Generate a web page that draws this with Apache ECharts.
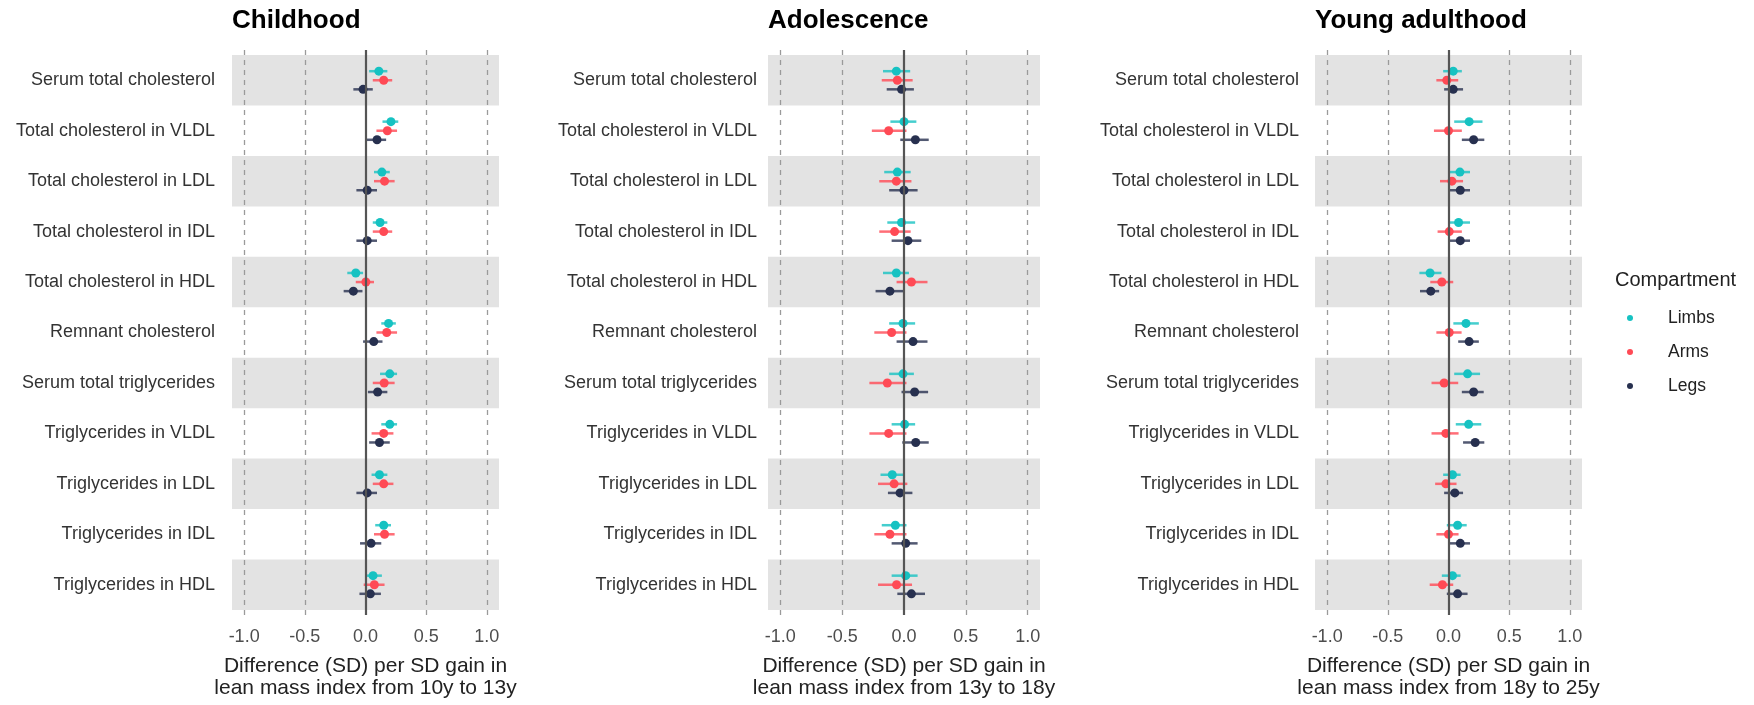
<!DOCTYPE html>
<html>
<head>
<meta charset="utf-8">
<script src="https://cdn.jsdelivr.net/npm/echarts@6/dist/echarts.min.js"></script>
<style>
  html, body { margin: 0; padding: 0; background: #fff; }
  #main { width: 1754px; height: 705px; }
</style>
</head>
<body>
<div id="main"></div>
<script>
// rows, top to bottom
const categories = [
  "Serum total cholesterol",
  "Total cholesterol in VLDL",
  "Total cholesterol in LDL",
  "Total cholesterol in IDL",
  "Total cholesterol in HDL",
  "Remnant cholesterol",
  "Serum total triglycerides",
  "Triglycerides in VLDL",
  "Triglycerides in LDL",
  "Triglycerides in IDL",
  "Triglycerides in HDL"
];
const xTicks = [-1.0, -0.5, 0.0, 0.5, 1.0];
const groups = ["Limbs", "Arms", "Legs"];
const panelTitles = ["Childhood", "Adolescence", "Young adulthood"];
const axisTitles = [
  "Difference (SD) per SD gain in\nlean mass index from 10y to 13y",
  "Difference (SD) per SD gain in\nlean mass index from 13y to 18y",
  "Difference (SD) per SD gain in\nlean mass index from 18y to 25y"
];

// [estimate, lower, upper] per row
const childLimbs = [[0.11,0.03,0.18],[0.21,0.14,0.27],[0.135,0.07,0.20],[0.12,0.06,0.18],[-0.08,-0.15,-0.02],[0.19,0.13,0.25],
  [0.20,0.12,0.26],[0.20,0.13,0.26],[0.115,0.05,0.18],[0.15,0.08,0.21],[0.062,0.0,0.135]];
const childArms = [[0.15,0.06,0.22],[0.18,0.09,0.26],[0.157,0.07,0.24],[0.15,0.06,0.22],[0.003,-0.08,0.07],[0.175,0.09,0.26],
  [0.154,0.06,0.24],[0.15,0.05,0.23],[0.15,0.06,0.23],[0.157,0.07,0.24],[0.073,-0.015,0.157]];
const childLegs = [[-0.02,-0.10,0.06],[0.095,0.005,0.17],[0.014,-0.075,0.095],[0.014,-0.075,0.095],[-0.10,-0.18,-0.025],[0.068,-0.02,0.14],
  [0.10,0.02,0.18],[0.115,0.03,0.20],[0.014,-0.075,0.095],[0.046,-0.045,0.13],[0.04,-0.05,0.127]];

const adolLimbs = [[-0.062,-0.17,0.05],[0.0,-0.11,0.10],[-0.054,-0.16,0.054],[-0.02,-0.135,0.09],[-0.062,-0.17,0.04],[-0.008,-0.12,0.09],
  [-0.008,-0.12,0.08],[0.005,-0.10,0.09],[-0.095,-0.19,-0.008],[-0.07,-0.18,0.02],[0.014,-0.10,0.11]];
const adolArms = [[-0.054,-0.18,0.07],[-0.124,-0.26,0.02],[-0.062,-0.20,0.06],[-0.076,-0.20,0.054],[0.06,-0.06,0.19],[-0.10,-0.24,0.02],
  [-0.135,-0.28,0.02],[-0.124,-0.28,0.02],[-0.08,-0.21,0.027],[-0.114,-0.24,0.02],[-0.06,-0.21,0.065]];
const adolLegs = [[-0.02,-0.14,0.08],[0.092,-0.03,0.20],[0.0,-0.12,0.11],[0.032,-0.10,0.14],[-0.114,-0.23,0.0],[0.073,-0.06,0.19],
  [0.086,-0.02,0.195],[0.095,-0.014,0.20],[-0.032,-0.13,0.068],[0.014,-0.10,0.11],[0.06,-0.054,0.17]];

const youngLimbs = [[0.039,-0.044,0.11],[0.17,0.047,0.28],[0.094,0.006,0.177],[0.083,0.0,0.177],[-0.152,-0.24,-0.058],[0.144,0.04,0.25],
  [0.157,0.047,0.26],[0.166,0.06,0.27],[0.033,-0.044,0.10],[0.075,-0.014,0.15],[0.033,-0.055,0.10]];
const youngArms = [[-0.014,-0.10,0.08],[0.0,-0.12,0.11],[0.028,-0.07,0.12],[0.006,-0.09,0.11],[-0.055,-0.15,0.039],[0.006,-0.10,0.108],
  [-0.036,-0.14,0.08],[-0.022,-0.14,0.083],[-0.022,-0.11,0.066],[0.0,-0.10,0.083],[-0.05,-0.155,0.039]];
const youngLegs = [[0.039,-0.036,0.12],[0.207,0.11,0.295],[0.097,0.006,0.177],[0.097,0.006,0.177],[-0.146,-0.235,-0.077],[0.17,0.08,0.25],
  [0.207,0.11,0.29],[0.22,0.12,0.295],[0.052,-0.036,0.12],[0.097,0.006,0.177],[0.075,-0.014,0.157]];

const panelData = [
  [childLimbs, childArms, childLegs],
  [adolLimbs, adolArms, adolLegs],
  [youngLimbs, youngArms, youngLegs]
];

const colors = ["#16C2C2", "#FF4A55", "#27304F"];
const dodge = [-0.18, 0, 0.18];
const font = "Liberation Sans, Arial, sans-serif";

const gridBoxes = [
  { left: 232, width: 267 },
  { left: 768, width: 272 },
  { left: 1315, width: 267 }
];

const option = {
  animation: false,
  textStyle: { fontFamily: font },
  title: panelTitles.map((t, i) => ({
    text: t, left: gridBoxes[i].left, top: 8, padding: 0,
    textStyle: { fontSize: 26, fontWeight: "bold", color: "#000", fontFamily: font }
  })).concat([{
    text: "Compartment", left: 1615, top: 270, padding: 0,
    textStyle: { fontSize: 20, fontWeight: "normal", color: "#222", fontFamily: font }
  }]),
  legend: {
    data: groups,
    orient: "vertical",
    left: 1622, top: 304,
    icon: "circle",
    itemWidth: 6, itemHeight: 6,
    itemGap: 16,
    textStyle: { fontSize: 17.5, color: "#222", fontFamily: font, padding: [0, 0, 0, 30] },
    selectedMode: false
  },
  grid: gridBoxes.map(g => ({ left: g.left, width: g.width, top: 50, height: 565 })),
  xAxis: gridBoxes.map((g, i) => ({
    type: "value", gridIndex: i, min: -1.1, max: 1.1,
    axisLine: { show: false }, axisTick: { show: false }, splitLine: { show: false },
    axisLabel: {
      customValues: xTicks, formatter: v => v.toFixed(1),
      fontSize: 18, color: "#4d4d4d", margin: 13, fontFamily: font
    },
    name: axisTitles[i], nameLocation: "middle", nameGap: 40,
    nameTextStyle: { fontSize: 21, color: "#222", lineHeight: 22, fontFamily: font }
  })),
  yAxis: gridBoxes.map((g, i) => ({
    type: "value", gridIndex: i, min: 0.4, max: 11.6, inverse: true,
    axisLine: { show: false }, axisTick: { show: false }, splitLine: { show: false },
    axisLabel: {
      customValues: categories.map((c, k) => k + 1),
      formatter: v => categories[Math.round(v) - 1] || "",
      fontSize: 18, color: "#333", margin: i === 0 ? 17 : (i === 1 ? 11 : 16), fontFamily: font
    }
  })),
  series: []
};

panelData.forEach((pd, p) => {
  // background bands, grid lines and zero line
  option.series.push({
    type: "line", xAxisIndex: p, yAxisIndex: p, data: [], z: 1, silent: true,
    markArea: {
      silent: true,
      itemStyle: { color: "#e3e3e3" },
      data: categories.map((c, k) => k).filter(k => k % 2 === 0)
        .map(k => [{ yAxis: k + 0.5, xAxis: -1.1 }, { yAxis: k + 1.5, xAxis: 1.1 }])
    },
    markLine: {
      silent: true, symbol: "none", label: { show: false },
      data: xTicks.map(t => ({
        xAxis: t,
        lineStyle: t === 0
          ? { type: "solid", color: "#555", width: 2.2 }
          : { type: [5, 5], color: "#9a9a9a", width: 1.3 }
      }))
    }
  });
  pd.forEach((rows, gi) => {
    const pts = rows.map((r, k) => [r[0], k + 1 + dodge[gi], r[1], r[2]]);
    option.series.push({
      type: "custom", name: groups[gi], xAxisIndex: p, yAxisIndex: p, z: 2, silent: true,
      itemStyle: { color: colors[gi] },
      data: pts,
      encode: { x: [0, 2, 3], y: 1 },
      renderItem: (params, api) => {
        const a = api.coord([api.value(2), api.value(1)]);
        const b = api.coord([api.value(3), api.value(1)]);
        return {
          type: "line",
          shape: { x1: a[0], y1: a[1], x2: b[0], y2: b[1] },
          style: { stroke: colors[gi], lineWidth: 2.5, opacity: 0.8 }
        };
      }
    });
    option.series.push({
      type: "scatter", name: groups[gi], xAxisIndex: p, yAxisIndex: p, z: 3, silent: true,
      symbolSize: 9,
      itemStyle: { color: colors[gi], opacity: 1 },
      data: pts.map(d => [d[0], d[1]])
    });
  });
});

const chart = echarts.init(document.getElementById("main"));
chart.setOption(option);
</script>
</body>
</html>
